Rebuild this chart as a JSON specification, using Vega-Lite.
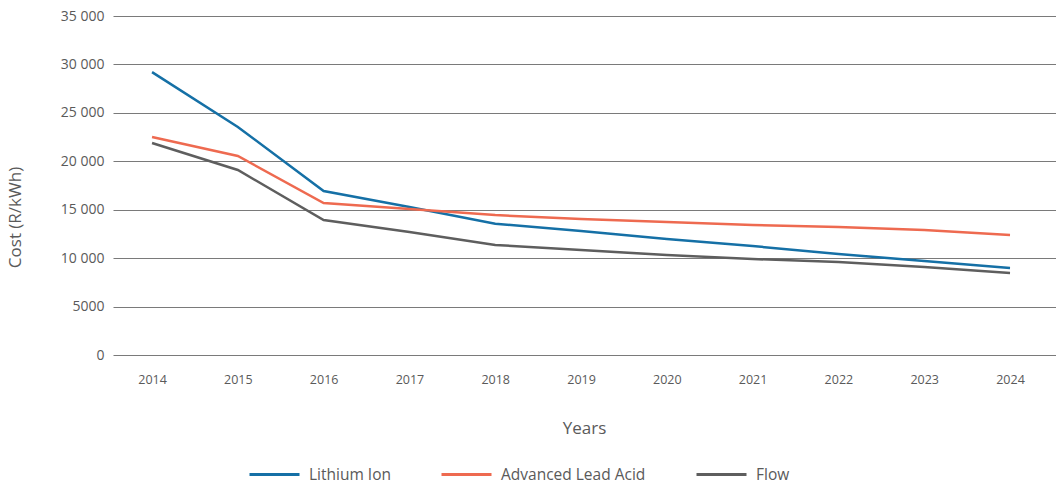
{
  "$schema": "https://vega.github.io/schema/vega-lite/v6.json",
  "width": 943,
  "height": 339,
  "autosize": {"type": "none"},
  "padding": {"left": 113, "top": 16, "right": 0, "bottom": 128},
  "background": "white",
  "config": {
    "view": {"stroke": null},
    "font": "Open Sans",
    "axis": {"labelFont": "Open Sans", "titleFont": "Open Sans", "labelColor": "#5a5a5a", "titleColor": "#5a5a5a", "titleFontWeight": "normal"},
    "legend": {"labelFont": "Open Sans", "labelColor": "#5a5a5a"}
  },
  "data": {
    "values": [
      {"year": 2014, "tech": "Lithium Ion", "cost": 29200},
      {"year": 2015, "tech": "Lithium Ion", "cost": 23540},
      {"year": 2016, "tech": "Lithium Ion", "cost": 16930},
      {"year": 2017, "tech": "Lithium Ion", "cost": 15280},
      {"year": 2018, "tech": "Lithium Ion", "cost": 13550},
      {"year": 2019, "tech": "Lithium Ion", "cost": 12800},
      {"year": 2020, "tech": "Lithium Ion", "cost": 11980},
      {"year": 2021, "tech": "Lithium Ion", "cost": 11250},
      {"year": 2022, "tech": "Lithium Ion", "cost": 10430},
      {"year": 2023, "tech": "Lithium Ion", "cost": 9700},
      {"year": 2024, "tech": "Lithium Ion", "cost": 8980},
      {"year": 2014, "tech": "Advanced Lead Acid", "cost": 22500},
      {"year": 2015, "tech": "Advanced Lead Acid", "cost": 20550},
      {"year": 2016, "tech": "Advanced Lead Acid", "cost": 15690},
      {"year": 2017, "tech": "Advanced Lead Acid", "cost": 15070},
      {"year": 2018, "tech": "Advanced Lead Acid", "cost": 14450},
      {"year": 2019, "tech": "Advanced Lead Acid", "cost": 14040},
      {"year": 2020, "tech": "Advanced Lead Acid", "cost": 13730},
      {"year": 2021, "tech": "Advanced Lead Acid", "cost": 13420},
      {"year": 2022, "tech": "Advanced Lead Acid", "cost": 13210},
      {"year": 2023, "tech": "Advanced Lead Acid", "cost": 12900},
      {"year": 2024, "tech": "Advanced Lead Acid", "cost": 12390},
      {"year": 2014, "tech": "Flow", "cost": 21890},
      {"year": 2015, "tech": "Flow", "cost": 19100},
      {"year": 2016, "tech": "Flow", "cost": 13940},
      {"year": 2017, "tech": "Flow", "cost": 12700},
      {"year": 2018, "tech": "Flow", "cost": 11360},
      {"year": 2019, "tech": "Flow", "cost": 10840},
      {"year": 2020, "tech": "Flow", "cost": 10320},
      {"year": 2021, "tech": "Flow", "cost": 9910},
      {"year": 2022, "tech": "Flow", "cost": 9600},
      {"year": 2023, "tech": "Flow", "cost": 9080},
      {"year": 2024, "tech": "Flow", "cost": 8470}
    ]
  },
  "mark": {"type": "line", "strokeWidth": 2.5},
  "encoding": {
    "x": {
      "field": "year",
      "type": "quantitative",
      "scale": {"domain": [2013.545, 2024.536], "nice": false, "zero": false},
      "axis": {
        "values": [2014, 2015, 2016, 2017, 2018, 2019, 2020, 2021, 2022, 2023, 2024],
        "format": "d",
        "grid": false,
        "domain": false,
        "ticks": false,
        "labelPadding": 18,
        "labelFontSize": 12.5,
        "title": "Years",
        "titleFontSize": 17,
        "titlePadding": 35,
        "titleX": 471
      }
    },
    "y": {
      "field": "cost",
      "type": "quantitative",
      "scale": {"domain": [0, 35000], "nice": false},
      "axis": {
        "values": [0, 5000, 10000, 15000, 20000, 25000, 30000, 35000],
        "labelExpr": "datum.value >= 10000 ? replace(format(datum.value, ','), ',', ' ') : format(datum.value, 'd')",
        "grid": true,
        "gridColor": "#7a7a7a",
        "gridWidth": 1.2,
        "gridOpacity": 1,
        "domain": false,
        "ticks": false,
        "labelPadding": 9,
        "labelFontSize": 14,
        "title": "Cost (R/kWh)",
        "titleFontSize": 17,
        "titleAngle": -90,
        "titleX": -89,
        "titleY": 201
      }
    },
    "color": {
      "field": "tech",
      "type": "nominal",
      "scale": {
        "domain": ["Lithium Ion", "Advanced Lead Acid", "Flow"],
        "range": ["#1570a6", "#ee6a50", "#5e5e5e"]
      },
      "legend": {
        "title": null,
        "orient": "none",
        "direction": "horizontal",
        "legendX": 135,
        "legendY": 432,
        "symbolType": "stroke",
        "symbolSize": 2500,
        "symbolStrokeWidth": 2.8,
        "labelFontSize": 15.5,
        "labelOffset": 8,
        "columnPadding": 44
      }
    }
  }
}
